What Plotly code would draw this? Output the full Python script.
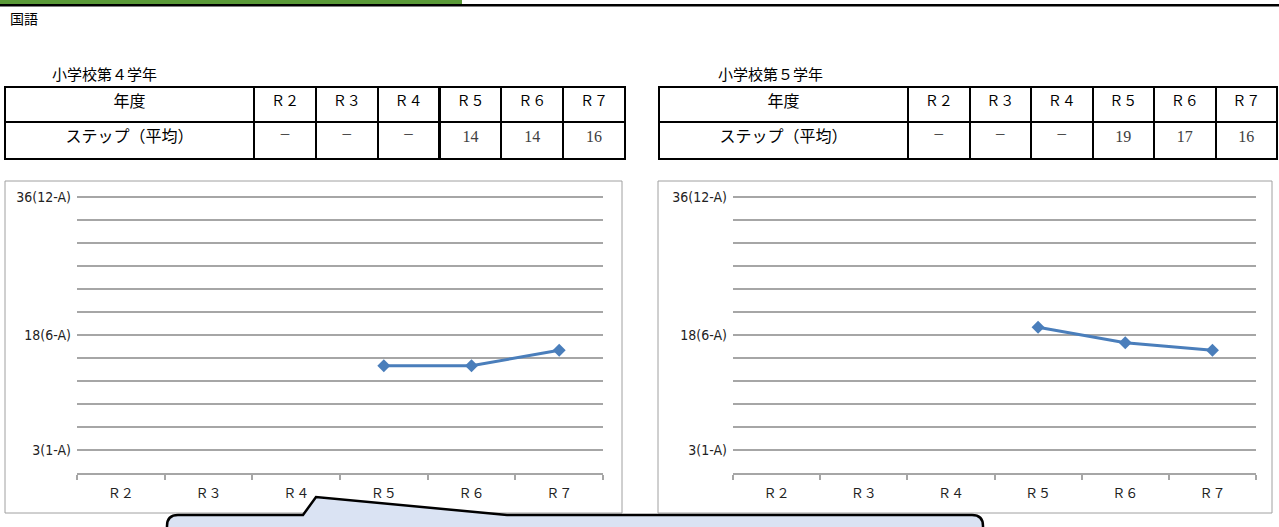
import plotly.graph_objects as go

W, H = 1279, 527

# ---------------- data ----------------
subject = "国語"
grade_titles = ["小学校第４学年", "小学校第５学年"]
row_header = "年度"
row_label = "ステップ（平均）"
categories = ["Ｒ２", "Ｒ３", "Ｒ４", "Ｒ５", "Ｒ６", "Ｒ７"]
grade4_values = [None, None, None, 14, 14, 16]
grade5_values = [None, None, None, 19, 17, 16]
ytick_values = [0, 3, 6, 9, 12, 15, 18, 21, 24, 27, 30, 33, 36]
ytick_labels = ["", "3(1-A)", "", "", "", "", "18(6-A)", "", "", "", "", "", "36(12-A)"]
missing_mark = "－"

# ---------------- helpers ----------------
def px(x):
    return x / W

def py(y):
    return 1 - y / H

GOTHIC = "Noto Sans CJK JP"
SERIF = "Liberation Serif"
NARROW = "DejaVu Sans Condensed"
LINE_BLUE = "#4a7ebb"
GRID = "#a6a6a6"

fig = go.Figure()

# ---------------- tables ----------------
table_boxes = [(5, 625), (659, 1277)]
for (x0, x1), values in zip(table_boxes, [grade4_values, grade5_values]):
    cell_vals = [[row_label]] + [[missing_mark if v is None else str(v)] for v in values]
    fams = [GOTHIC] + [GOTHIC if v is None else SERIF for v in values]
    cols = ["black"] + ["#222222" if v is None else "#404040" for v in values]
    sizes = [16] + [12 if v is None else 16 for v in values]
    first_w = 249
    rest = (x1 - x0 - first_w) / len(categories)
    fig.add_trace(go.Table(
        domain=dict(x=[px(x0), px(x1)], y=[py(170), py(87)]),
        columnwidth=[first_w] + [rest] * len(categories),
        header=dict(values=[row_header] + categories,
                    height=35, align="center",
                    fill_color="white",
                    line=dict(color="black", width=2),
                    font=dict(family=GOTHIC, size=[16] + [14] * len(categories), color="black")),
        cells=dict(values=cell_vals,
                   height=37, align="center",
                   fill_color="white",
                   line=dict(color="black", width=2),
                   font=dict(family=fams, size=sizes, color=cols)),
    ))

# ---------------- charts ----------------
chart_x = [(77, 603), (733, 1256)]
y_top_val = 37.0
unit = (473 - 197) / 36.0
y_dom = [py(473), py(473 - unit * y_top_val)]
for i, ((x0, x1), values) in enumerate(zip(chart_x, [grade4_values, grade5_values])):
    n = "" if i == 0 else "2"
    fig.add_trace(go.Scatter(
        x=categories, y=values, mode="lines+markers",
        xaxis="x" + n, yaxis="y" + n,
        line=dict(color=LINE_BLUE, width=3),
        marker=dict(symbol="diamond", size=10, color=LINE_BLUE),
        connectgaps=False, showlegend=False, hoverinfo="x+y",
    ))
    fig.layout["xaxis" + n] = dict(
        domain=[px(x0), px(x1)], anchor="y" + n,
        type="category", categoryorder="array", categoryarray=categories,
        range=[-0.5, len(categories) - 0.5],
        showline=True, linecolor=GRID, linewidth=1.5,
        ticks="outside", tickson="boundaries", ticklen=5, tickcolor=GRID, tickwidth=1.5,
        ticklabelstandoff=8, automargin=False,
        showgrid=False, zeroline=False,
        tickfont=dict(family=GOTHIC, size=13, color="#222222"),
        fixedrange=True,
    )
    fig.layout["yaxis" + n] = dict(
        domain=y_dom, anchor="x" + n,
        range=[0, y_top_val], tickmode="array",
        tickvals=ytick_values, ticktext=ytick_labels,
        showgrid=True, gridcolor=GRID, gridwidth=1.5,
        zeroline=False, showline=False, ticks="",
        ticklabelstandoff=5, automargin=False,
        tickfont=dict(family=NARROW, size=14, color="#222222"),
        fixedrange=True,
    )

# ---------------- decorations ----------------
shapes = [
    dict(type="rect", xref="paper", yref="paper", x0=px(0), x1=px(462), y0=py(4), y1=py(0),
         fillcolor="#5a9a38", line=dict(width=0)),
    dict(type="rect", xref="paper", yref="paper", x0=px(0), x1=px(W), y0=py(6.5), y1=py(4),
         fillcolor="black", line=dict(width=0)),
    dict(type="rect", xref="paper", yref="paper", x0=px(5), x1=px(622), y0=py(513), y1=py(181),
         fillcolor="rgba(0,0,0,0)", line=dict(color="#a0a0a0", width=1), layer="below"),
    dict(type="rect", xref="paper", yref="paper", x0=px(658), x1=px(1272), y0=py(513), y1=py(181),
         fillcolor="rgba(0,0,0,0)", line=dict(color="#a0a0a0", width=1), layer="below"),
]

pts = [("M", 167, 570), ("L", 167, 526), ("Q", 167, 515, 178, 515), ("L", 303, 515),
       ("L", 316, 497), ("L", 507, 515), ("L", 972, 515), ("Q", 983, 515, 983, 526),
       ("L", 983, 570)]
path = ""
for p in pts:
    cmd = p[0]
    coords = p[1:]
    seg = []
    for k in range(0, len(coords), 2):
        seg.append(f"{px(coords[k]):.5f},{py(coords[k+1]):.5f}")
    path += cmd + " " + " ".join(seg) + " "
path += "Z"
shapes.append(dict(type="path", xref="paper", yref="paper", path=path,
                   fillcolor="#dae3f3", line=dict(color="black", width=2.5), layer="above"))

annotations = [
    dict(text=subject, x=px(8), y=py(18), xref="paper", yref="paper", showarrow=False,
         xanchor="left", yanchor="middle", font=dict(family=GOTHIC, size=14, color="black")),
    dict(text=grade_titles[0], x=px(50), y=py(73), xref="paper", yref="paper", showarrow=False,
         xanchor="left", yanchor="middle", font=dict(family=GOTHIC, size=15, color="black")),
    dict(text=grade_titles[1], x=px(716), y=py(73), xref="paper", yref="paper", showarrow=False,
         xanchor="left", yanchor="middle", font=dict(family=GOTHIC, size=15, color="black")),
]

fig.update_layout(
    width=W, height=H,
    margin=dict(l=0, r=0, t=0, b=0, pad=0, autoexpand=False),
    paper_bgcolor="white", plot_bgcolor="white",
    shapes=shapes, annotations=annotations,
    showlegend=False,
)

post = (
    "document.documentElement.style.margin='0';"
    "document.documentElement.style.padding='0';"
    "document.documentElement.style.overflow='hidden';"
    "document.body.style.margin='0';document.body.style.padding='0';"
    "document.body.style.overflow='hidden';"
    "var d=document.querySelector('.plotly-graph-div');"
    "d.style.position='absolute';d.style.top='0px';d.style.left='0px';"
)
fig.write_html("out.html", config={"displayModeBar": False}, post_script=post)
